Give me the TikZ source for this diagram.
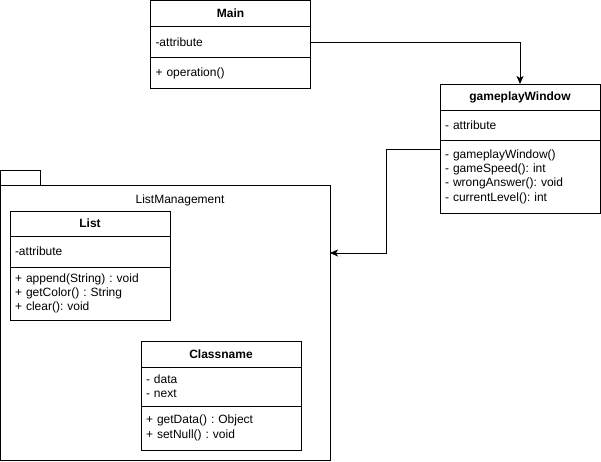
\documentclass[tikz,border=0pt]{standalone}
\usepackage{fontspec}
\setmainfont{Liberation Sans}
\frenchspacing
\usetikzlibrary{arrows.meta,positioning}

\tikzset{
  compart/.style={draw, line width=1pt, anchor=north west, inner xsep=5pt, inner ysep=0pt, outer sep=0pt,
    text width=150pt, align=left, font=\fontsize{12}{14.3}\selectfont},
  classtitle/.style={compart, align=center, font=\fontsize{12}{14.3}\selectfont\bfseries},
  link/.style={line width=1pt, -{Stealth[length=8pt,width=7pt,inset=2pt]}}
}

\begin{document}
\begin{tikzpicture}[x=1pt, y=-1pt]
		\useasboundingbox (0,0) rectangle (601,461);
		
		% package ListManagement
		\node[draw, line width=1pt, anchor=north west, minimum width=329.5pt, minimum height=275pt, inner sep=0pt, outer sep=0pt] (pkg) at (0.5,185) {};
		\node[draw, line width=1pt, anchor=south west, minimum width=40pt, minimum height=14.5pt, inner sep=0pt, outer sep=0pt] (pkgTab) at (pkg.north west) {};
		\node[font=\fontsize{12}{14.3}\selectfont] (pkgName) at (180,200) {ListManagement};
		
		% class Main
		\node[classtitle, minimum height=26pt] (mainTitle) at (150.5,0.5) {Main};
		\node[compart, minimum height=31pt] (mainAttr) at (mainTitle.south west) {-attribute};
		\node[compart, minimum height=31pt] (mainOps) at (mainAttr.south west) {+ operation()};
		
		% class gameplayWindow
		\node[classtitle, minimum height=26pt] (gwTitle) at (440,84) {gameplayWindow};
		\node[compart, minimum height=30pt] (gwAttr) at (gwTitle.south west) {- attribute};
		\node[compart, minimum height=73pt] (gwOps) at (gwAttr.south west)
			{- gameplayWindow()\\- gameSpeed(): int\\- wrongAnswer(): void\\- currentLevel(): int};
		
		% class List
		\node[classtitle, minimum height=25pt] (listTitle) at (10,211) {List};
		\node[compart, minimum height=31pt] (listAttr) at (listTitle.south west) {-attribute};
		\node[compart, minimum height=53pt] (listOps) at (listAttr.south west)
			{+ append(String) : void\\+ getColor() : String\\+ clear(): void};
		
		% class Classname
		\node[classtitle, minimum height=26pt] (nodeTitle) at (141,341) {Classname};
		\node[compart, minimum height=39pt] (nodeAttr) at (nodeTitle.south west) {- data\\- next};
		\node[compart, minimum height=44pt] (nodeOps) at (nodeAttr.south west)
			{+ getData() : Object\\+ setNull() : void};
		
		% connectors
		\draw[link] (mainAttr.east) -| (gwTitle.north);
		\coordinate (pkgIn) at ([yshift=-68pt]pkg.north east);
		\draw[link] ([yshift=-9pt]gwOps.north west) -- ++(-54,0) |- (pkgIn);
	\end{tikzpicture}
\end{document}
